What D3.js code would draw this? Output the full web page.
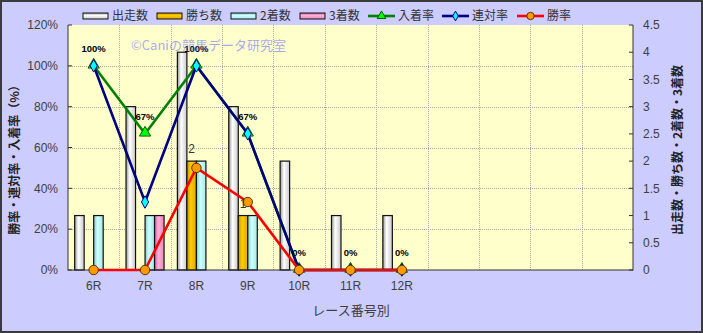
<!DOCTYPE html>
<html>
<head>
<meta charset="utf-8">
<script src="https://cdn.jsdelivr.net/npm/d3@7"></script>
<style>
  body { margin: 0; background: #fff; }
  svg { display: block; }
  text { font-family: "Liberation Sans", Arial, "Noto Sans CJK JP", sans-serif; }
  .jp { font-family: "Noto Sans CJK JP", "Liberation Sans", sans-serif; }
</style>
</head>
<body>
<div id="chart"></div>
<script>
// data
const races = ["6R", "7R", "8R", "9R", "10R", "11R", "12R"];
const slots = 11;   // 4 empty slots on the right

const starts  = [1, 3, 4, 3, 2, 1, 1];   // 出走数
const wins    = [0, 0, 2, 1, 0, 0, 0];   // 勝ち数
const seconds = [1, 1, 2, 1, 0, 0, 0];   // 2着数
const thirds  = [0, 1, 0, 0, 0, 0, 0];   // 3着数

const placeRate  = [1, 0.667, 1, 0.667, 0, 0, 0];   // 入着率
const rentaiRate = [1, 0.333, 1, 0.667, 0, 0, 0];   // 連対率
const winRate    = [0, 0, 0.5, 0.333, 0, 0, 0];     // 勝率

const leftTicks  = [0, 0.2, 0.4, 0.6, 0.8, 1.0, 1.2];
const rightTicks = [0, 0.5, 1, 1.5, 2, 2.5, 3, 3.5, 4, 4.5];

const w = 703, h = 333;
const m = {left: 68, right: 633, top: 25, bottom: 270};

const svg = d3.select("#chart").append("svg")
    .attr("width", w)
    .attr("height", h);

const defs = svg.append("defs");

const barSeries = [
  {key: "出走数", values: starts,  edge: "#9a9a9a", mid: "#ffffff", end: "#c8c8c8"},
  {key: "勝ち数", values: wins,    edge: "#c89000", mid: "#ffcc00", end: "#e0a800"},
  {key: "2着数", values: seconds, edge: "#80c8c8", mid: "#ccffff", end: "#a8e8e8"},
  {key: "3着数", values: thirds,  edge: "#d06098", mid: "#ffb0d8", end: "#e888b8"}
];

barSeries.forEach(function(s, i) {
  ["h", "v"].forEach(function(dir) {
    const g = defs.append("linearGradient")
        .attr("id", "g" + dir + i)
        .attr("x1", 0).attr("y1", 0)
        .attr("x2", dir == "h" ? 1 : 0)
        .attr("y2", dir == "h" ? 0 : 1);
    g.append("stop").attr("offset", "0%").attr("stop-color", s.edge);
    g.append("stop").attr("offset", "40%").attr("stop-color", s.mid);
    g.append("stop").attr("offset", "100%").attr("stop-color", s.end);
  });
});

// backgrounds
svg.append("rect")
    .attr("x", 1).attr("y", 1)
    .attr("width", w - 2).attr("height", h - 2)
    .style("fill", "#ccccff")
    .style("stroke", "#3a3a3a")
    .style("stroke-width", 2);

svg.append("rect")
    .attr("x", m.left).attr("y", m.top)
    .attr("width", m.right - m.left).attr("height", m.bottom - m.top)
    .style("fill", "#ffffcc");

// scales
const x = d3.scaleBand()
    .domain(d3.range(slots))
    .range([m.left, m.right]);

const xSub = d3.scaleBand()
    .domain(d3.range(barSeries.length))
    .range([0, x.bandwidth()])
    .paddingOuter(0.7);

const yL = d3.scaleLinear().domain([0, 1.2]).range([m.bottom, m.top]);
const yR = d3.scaleLinear().domain([0, 4.5]).range([m.bottom, m.top]);

const cx = function(i) { return x(i) + x.bandwidth() / 2; };

// grid
svg.append("g").selectAll("line")
    .data(leftTicks.filter(function(d) { return d > 0 && d < 1.2; }))
    .enter().append("line")
    .attr("x1", m.left).attr("x2", m.right)
    .attr("y1", function(d) { return Math.round(yL(d)) + 0.5; })
    .attr("y2", function(d) { return Math.round(yL(d)) + 0.5; })
    .style("stroke", "#a8a8a8")
    .style("stroke-dasharray", "1,1");

svg.append("g").selectAll("line")
    .data(d3.range(1, slots))
    .enter().append("line")
    .attr("x1", function(d) { return Math.round(x(d)) + 0.5; })
    .attr("x2", function(d) { return Math.round(x(d)) + 0.5; })
    .attr("y1", m.top).attr("y2", m.bottom)
    .style("stroke", "#a8a8a8")
    .style("stroke-dasharray", "1,1");

// bars
barSeries.forEach(function(s, si) {
  svg.append("g").selectAll("rect")
      .data(s.values.map(function(v, i) { return {v: v, i: i}; }).filter(function(d) { return d.v > 0; }))
      .enter().append("rect")
      .attr("x", function(d) { return x(d.i) + xSub(si); })
      .attr("y", function(d) { return yR(d.v); })
      .attr("width", xSub.bandwidth())
      .attr("height", function(d) { return yR(0) - yR(d.v); })
      .style("fill", "url(#gh" + si + ")")
      .style("stroke", "#111")
      .style("stroke-width", 1.2);
});

// axes lines
const axisColor = "#333";
svg.append("line").attr("x1", m.left).attr("x2", m.left).attr("y1", m.top).attr("y2", m.bottom + 0.5)
    .style("stroke", axisColor);
svg.append("line").attr("x1", m.right).attr("x2", m.right).attr("y1", m.top).attr("y2", m.bottom + 0.5)
    .style("stroke", axisColor);
svg.append("line").attr("x1", m.left).attr("x2", m.right).attr("y1", m.bottom).attr("y2", m.bottom)
    .style("stroke", axisColor);

// left axis
const leftAxis = svg.append("g");
leftAxis.selectAll("line")
    .data(leftTicks).enter().append("line")
    .attr("x1", m.left).attr("x2", m.left + 4)
    .attr("y1", function(d) { return yL(d); })
    .attr("y2", function(d) { return yL(d); })
    .style("stroke", axisColor);
leftAxis.selectAll("text")
    .data(leftTicks).enter().append("text")
    .attr("x", m.left - 10)
    .attr("y", function(d) { return yL(d); })
    .attr("dy", "0.35em")
    .attr("text-anchor", "end")
    .attr("font-size", "12px")
    .attr("fill", "#404040")
    .text(d3.format(".0%"));

// right axis
const rightAxis = svg.append("g");
rightAxis.selectAll("line")
    .data(rightTicks).enter().append("line")
    .attr("x1", m.right - 4).attr("x2", m.right)
    .attr("y1", function(d) { return yR(d); })
    .attr("y2", function(d) { return yR(d); })
    .style("stroke", axisColor);
rightAxis.selectAll("text")
    .data(rightTicks).enter().append("text")
    .attr("x", m.right + 10)
    .attr("y", function(d) { return yR(d); })
    .attr("dy", "0.35em")
    .attr("font-size", "12px")
    .attr("fill", "#404040")
    .text(function(d) { return d; });

// x labels
svg.append("g").selectAll("text")
    .data(races).enter().append("text")
    .attr("x", function(d, i) { return cx(i); })
    .attr("y", 290)
    .attr("text-anchor", "middle")
    .attr("font-size", "12px")
    .attr("fill", "#404040")
    .text(function(d) { return d; });

// axis titles
svg.append("text")
    .attr("class", "jp")
    .attr("transform", "translate(19,157) rotate(-90)")
    .attr("text-anchor", "middle")
    .attr("font-size", "12px")
    .attr("font-weight", "bold")
    .attr("fill", "#222")
    .text("勝率・連対率・入着率（%）");

svg.append("text")
    .attr("class", "jp")
    .attr("transform", "translate(682,150) rotate(-90)")
    .attr("text-anchor", "middle")
    .attr("font-size", "12px")
    .attr("font-weight", "bold")
    .attr("fill", "#222")
    .text("出走数・勝ち数・2着数・3着数");

svg.append("text")
    .attr("class", "jp")
    .attr("x", 351).attr("y", 315)
    .attr("text-anchor", "middle")
    .attr("font-size", "13px")
    .attr("fill", "#404040")
    .text("レース番号別");

// rate lines
const lineSeries = [
  {key: "入着率", values: placeRate,  color: "#008000", symbol: d3.symbolTriangle, size: 55, fill: "#00ff00", stroke: "#006000"},
  {key: "連対率", values: rentaiRate, color: "#000080", symbol: d3.symbolDiamond,  size: 45, fill: "#00ffff", stroke: "#000080"},
  {key: "勝率",   values: winRate,    color: "#ff0000", symbol: d3.symbolCircle,   size: 70, fill: "#ff9900", stroke: "#603000"}
];

const line = d3.line()
    .x(function(d, i) { return cx(i); })
    .y(function(d) { return yL(d); });

lineSeries.forEach(function(s) {
  svg.append("path")
      .datum(s.values)
      .attr("d", line)
      .style("fill", "none")
      .style("stroke", s.color)
      .style("stroke-width", 2.6)
      .style("stroke-linejoin", "round");
  svg.append("g").selectAll("path")
      .data(s.values).enter().append("path")
      .attr("d", d3.symbol().type(s.symbol).size(s.size))
      .attr("transform", function(d, i) {
        const dy = s.symbol == d3.symbolTriangle ? -1 : 0;
        return "translate(" + cx(i) + "," + (yL(d) + dy) + ")";
      })
      .style("fill", s.fill)
      .style("stroke", s.stroke)
      .style("stroke-width", 1);
});

// data labels: 入着率
svg.append("g").selectAll("text")
    .data(placeRate).enter().append("text")
    .attr("x", function(d, i) { return cx(i); })
    .attr("y", function(d) { return yL(d) - 14; })
    .attr("text-anchor", "middle")
    .attr("font-size", "9.5px")
    .attr("font-weight", "bold")
    .attr("fill", "#000")
    .text(d3.format(".0%"));

// data labels: 勝ち数
svg.append("g").selectAll("text")
    .data(wins.map(function(v, i) { return {v: v, i: i}; }).filter(function(d) { return d.v > 0; }))
    .enter().append("text")
    .attr("x", function(d) { return x(d.i) + xSub(1) + xSub.bandwidth() / 2; })
    .attr("y", function(d) { return yR(d.v) - 8; })
    .attr("text-anchor", "middle")
    .attr("font-size", "12px")
    .attr("fill", "#333")
    .text(function(d) { return d.v; });

// watermark
svg.append("text")
    .attr("class", "jp")
    .attr("x", 131).attr("y", 50)
    .attr("font-size", "13px")
    .attr("fill", "#7070ff")
    .attr("fill-opacity", 0.6)
    .text("©Caniの競馬データ研究室");

// legend
const legend = svg.append("g").attr("transform", "translate(0,16)");
const barLegendX = [83, 157, 231, 300];
barSeries.forEach(function(s, i) {
  legend.append("rect")
      .attr("x", barLegendX[i]).attr("y", -3)
      .attr("width", 25).attr("height", 6)
      .style("fill", "url(#gv" + i + ")")
      .style("stroke", "#111");
  legend.append("text")
      .attr("class", "jp")
      .attr("x", barLegendX[i] + 29).attr("y", 0)
      .attr("dy", "0.35em")
      .attr("font-size", "12px")
      .attr("fill", "#333")
      .text(s.key);
});

const lineLegendX = [368, 442, 517];
lineSeries.forEach(function(s, i) {
  const lx = lineLegendX[i];
  legend.append("line")
      .attr("x1", lx).attr("x2", lx + 27)
      .attr("y1", 0).attr("y2", 0)
      .style("stroke", s.color)
      .style("stroke-width", 2.6);
  legend.append("path")
      .attr("d", d3.symbol().type(s.symbol).size(s.size * 0.6))
      .attr("transform", "translate(" + (lx + 13.5) + ",0)")
      .style("fill", s.fill)
      .style("stroke", s.stroke);
  legend.append("text")
      .attr("class", "jp")
      .attr("x", lx + 30).attr("y", 0)
      .attr("dy", "0.35em")
      .attr("font-size", "12px")
      .attr("fill", "#333")
      .text(s.key);
});
</script>
</body>
</html>
